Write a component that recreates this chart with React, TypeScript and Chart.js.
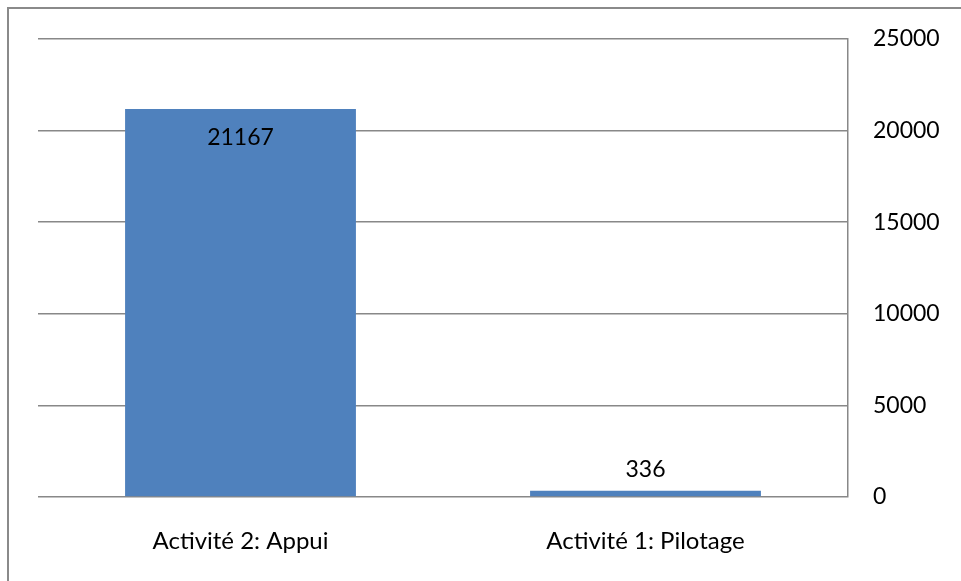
import React, { useEffect, useRef } from "react";
import { Chart, registerables } from "chart.js";

Chart.register(...registerables);

const categories = ["Activité 2: Appui", "Activité 1: Pilotage"];
const values = [21167, 336];
const yMin = 0;
const yMax = 25000;
const yStep = 5000;

const FONT = "Lato, 'Open Sans', sans-serif";
const FSIZE = 23;

const framePlugin = {
  id: "frame",
  beforeDraw(chart: any) {
    const ctx = chart.ctx;
    ctx.save();
    ctx.fillStyle = "#ffffff";
    ctx.fillRect(0, 0, chart.width, chart.height);
    ctx.strokeStyle = "#8a8a8a";
    ctx.lineWidth = 2;
    ctx.beginPath();
    ctx.moveTo(8, chart.height);
    ctx.lineTo(8, 8);
    ctx.lineTo(chart.width, 8);
    ctx.stroke();
    ctx.restore();
  },
};

const labelPlugin = {
  id: "barLabels",
  afterDatasetsDraw(chart: any) {
    const ctx = chart.ctx;
    const meta = chart.getDatasetMeta(0);
    const area = chart.chartArea;
    ctx.save();
    ctx.font = `${FSIZE}px ${FONT}`;
    ctx.fillStyle = "#000000";
    ctx.textAlign = "center";
    ctx.textBaseline = "middle";
    meta.data.forEach((bar: any, i: number) => {
      const v = chart.data.datasets[0].data[i];
      const h = bar.base - bar.y;
      const inside = h > (area.bottom - area.top) / 2;
      const y = inside ? bar.y + 29 : bar.y - 21;
      ctx.fillText(String(v), bar.x, y);
    });
    ctx.restore();
  },
};

export default function App() {
  const ref = useRef<HTMLCanvasElement>(null);
  useEffect(() => {
    if (!ref.current) return;
    const chart = new Chart(ref.current, {
      type: "bar",
      data: {
        labels: categories,
        datasets: [
          {
            data: values,
            backgroundColor: "#4f81bd",
            borderWidth: 0,
            categoryPercentage: 1,
            barPercentage: 0.57,
          },
        ],
      },
      options: {
        animation: false,
        responsive: false,
        devicePixelRatio: 1,
        layout: { padding: { left: 38, top: 37, right: 0, bottom: 0 } },
        plugins: {
          legend: { display: false },
          tooltip: { enabled: false },
        },
        scales: {
          x: {
            grid: { display: false },
            border: { display: false },
            ticks: {
              color: "#000000",
              font: { family: FONT, size: 24 },
              padding: 22,
              maxRotation: 0,
            },
            afterFit: (s: any) => {
              s.height = 84;
            },
          },
          y: {
            position: "right",
            min: yMin,
            max: yMax,
            grid: { color: "#888888", lineWidth: 1.5, drawTicks: false },
            border: { display: true, color: "#888888", width: 1.5 },
            ticks: {
              stepSize: yStep,
              color: "#000000",
              font: { family: FONT, size: FSIZE },
              padding: 25,
              callback: (v: any) => String(v),
            },
            afterFit: (s: any) => {
              s.width = 113;
            },
          },
        },
      },
      plugins: [framePlugin, labelPlugin],
    });
    return () => chart.destroy();
  }, []);
  return (
    <div style={{ position: "fixed", left: 0, top: 0, width: 961, height: 581 }}>
      <canvas ref={ref} width={961} height={581} style={{ width: 961, height: 581 }} />
    </div>
  );
}
